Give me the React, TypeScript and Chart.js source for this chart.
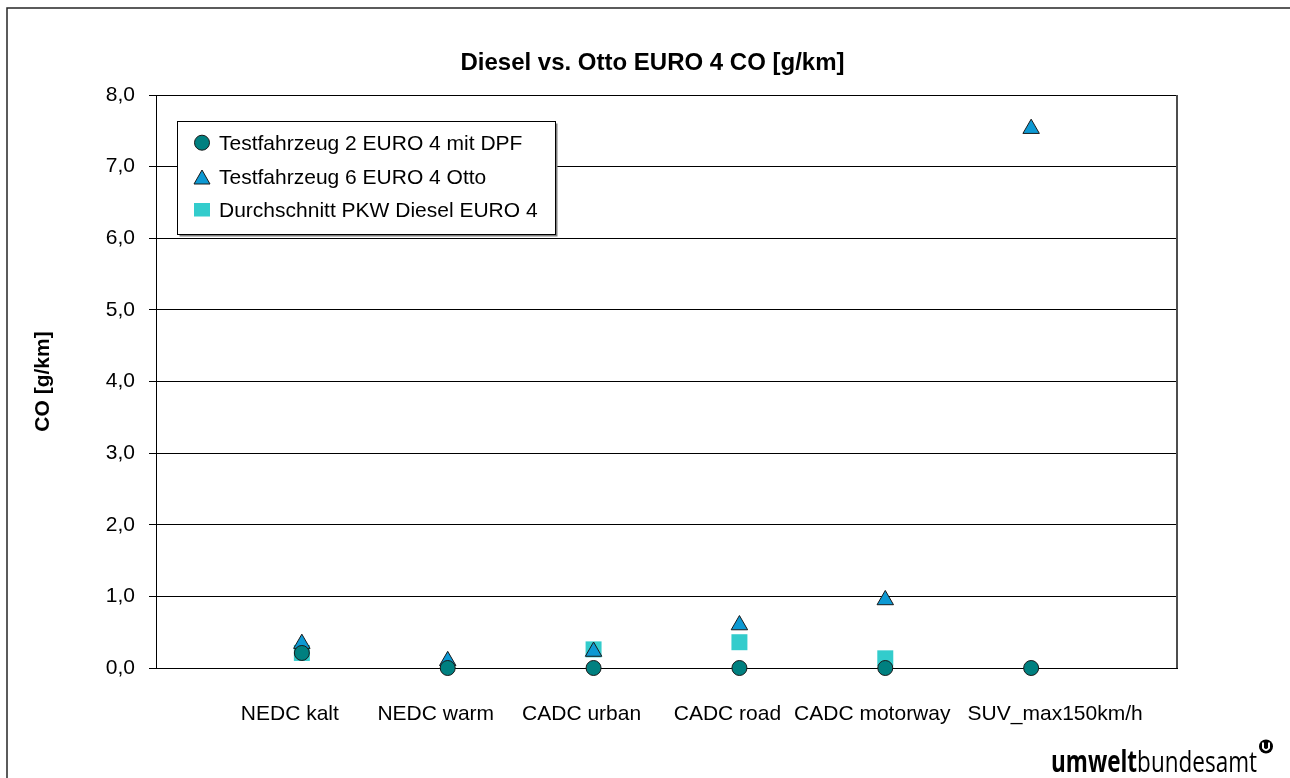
import React, { useEffect, useRef } from 'react';
import { Chart, registerables } from 'chart.js';

Chart.register(...registerables);

// ---- data ----
const chartTitle = 'Diesel vs. Otto EURO 4 CO [g/km]';
const yAxisTitle = 'CO [g/km]';
const categories = ['NEDC kalt', 'NEDC warm', 'CADC urban', 'CADC road', 'CADC motorway', 'SUV_max150km/h'];
const seriesNames = ['Testfahrzeug 2 EURO 4 mit DPF', 'Testfahrzeug 6 EURO 4 Otto', 'Durchschnitt PKW Diesel EURO 4'];
const testfahrzeug2 = [0.21, 0, 0, 0, 0, 0];
const testfahrzeug6 = [0.34, 0.1, 0.23, 0.6, 0.95, 7.53];
const durchschnittDiesel: (number | null)[] = [0.21, null, 0.26, 0.36, 0.135, null];
const yMin = 0;
const yMax = 8;
const yStep = 1;
const logoBold = 'umwelt';
const logoRegular = 'bundesamt';

// ---- styles ----
const FONT = '"Liberation Sans", Arial, Helvetica, sans-serif';
const CIRCLE_FILL = '#008080';
const TRI_FILL = '#0d99d3';
const SQUARE_FILL = '#33cccc';
const MARK_BORDER = '#1a1a1a';
const labelShift = [-12, -12, -12, -12, -13, 24];

const toPoints = (arr: (number | null)[]) =>
  arr.map((v, i) => ({ x: i + 1, y: v }));

const decorPlugin = {
  id: 'decor',
  beforeDraw(chart: any) {
    const ctx = chart.ctx;
    ctx.save();
    ctx.fillStyle = '#ffffff';
    ctx.fillRect(0, 0, chart.width, chart.height);
    ctx.strokeStyle = '#262626';
    ctx.lineWidth = 1.5;
    ctx.strokeRect(7, 8, 1400, 900);
    ctx.restore();
    const xs = chart.scales.x;
    const items = xs.getLabelItems();
    items.forEach((it: any) => {
      const idx = categories.indexOf(it.label);
      if (idx >= 0 && !it._shifted) {
        it.options.translation[0] += labelShift[idx];
        it._shifted = true;
      }
    });
  },
  afterDraw(chart: any) {
    const ctx = chart.ctx;
    const area = chart.chartArea;
    ctx.save();
    // plot area right border
    ctx.strokeStyle = '#4d4d4d';
    ctx.lineWidth = 2;
    ctx.beginPath();
    ctx.moveTo(area.right, area.top);
    ctx.lineTo(area.right, area.bottom);
    ctx.stroke();

    // title
    ctx.fillStyle = '#000';
    ctx.font = `bold 24px ${FONT}`;
    ctx.textAlign = 'center';
    ctx.textBaseline = 'alphabetic';
    ctx.fillText(chartTitle, 652.5, 70);

    // legend box
    const lx = 177.5, ly = 121.5, lw = 378, lh = 113;
    ctx.fillStyle = '#808080';
    ctx.fillRect(lx + 2, ly + 2, lw, lh);
    ctx.fillStyle = '#ffffff';
    ctx.fillRect(lx, ly, lw, lh);
    ctx.strokeStyle = '#000';
    ctx.lineWidth = 1;
    ctx.strokeRect(lx, ly, lw, lh);

    const mx = 202;
    // circle
    ctx.beginPath();
    ctx.arc(mx, 142.7, 7.5, 0, Math.PI * 2);
    ctx.fillStyle = CIRCLE_FILL;
    ctx.fill();
    ctx.strokeStyle = MARK_BORDER;
    ctx.stroke();
    // triangle
    ctx.beginPath();
    ctx.moveTo(mx, 170);
    ctx.lineTo(mx + 8, 184);
    ctx.lineTo(mx - 8, 184);
    ctx.closePath();
    ctx.fillStyle = TRI_FILL;
    ctx.fill();
    ctx.stroke();
    // square
    ctx.fillStyle = SQUARE_FILL;
    ctx.fillRect(mx - 8, 203, 16, 13.5);

    ctx.fillStyle = '#000';
    ctx.font = `21px ${FONT}`;
    ctx.textAlign = 'left';
    const baselines = [150, 184, 216.5];
    seriesNames.forEach((n, i) => ctx.fillText(n, 219, baselines[i]));

    // logo
    ctx.save();
    ctx.translate(1051, 771.5);
    ctx.font = `bold 30px "Open Sans", ${FONT}`;
    const w1 = ctx.measureText(logoBold).width;
    ctx.font = `30px "Open Sans", ${FONT}`;
    const w2 = ctx.measureText(logoRegular).width;
    const sx = 206 / (w1 + w2);
    ctx.scale(sx, 1);
    ctx.font = `bold 30px "Open Sans", ${FONT}`;
    ctx.fillText(logoBold, 0, 0);
    ctx.font = `30px "Open Sans", ${FONT}`;
    ctx.fillText(logoRegular, w1, 0);
    ctx.restore();
    // logo symbol
    ctx.beginPath();
    ctx.arc(1266, 746.5, 7, 0, Math.PI * 2);
    ctx.fillStyle = '#000';
    ctx.fill();
    ctx.strokeStyle = '#fff';
    ctx.lineWidth = 2;
    ctx.beginPath();
    ctx.moveTo(1263, 742.5);
    ctx.lineTo(1263, 748);
    ctx.quadraticCurveTo(1266, 752, 1269, 748);
    ctx.lineTo(1269, 742.5);
    ctx.stroke();
    ctx.restore();
  },
};

export default function App() {
  const ref = useRef<HTMLCanvasElement | null>(null);

  useEffect(() => {
    if (!ref.current) return;
    const chart = new Chart(ref.current, {
      type: 'scatter',
      data: {
        datasets: [
          {
            label: seriesNames[0],
            data: toPoints(testfahrzeug2),
            pointStyle: 'circle',
            pointRadius: 7.5,
            pointBackgroundColor: CIRCLE_FILL,
            pointBorderColor: MARK_BORDER,
            pointBorderWidth: 1,
            showLine: false,
            clip: false,
          } as any,
          {
            label: seriesNames[1],
            data: toPoints(testfahrzeug6),
            pointStyle: 'triangle',
            pointRadius: 9.5,
            pointBackgroundColor: TRI_FILL,
            pointBorderColor: MARK_BORDER,
            pointBorderWidth: 1,
            showLine: false,
            clip: false,
          } as any,
          {
            label: seriesNames[2],
            data: toPoints(durchschnittDiesel),
            pointStyle: 'rect',
            pointRadius: 11.3,
            pointBackgroundColor: SQUARE_FILL,
            pointBorderWidth: 0,
            showLine: false,
            clip: false,
          } as any,
        ],
      },
      options: {
        animation: false,
        responsive: false,
        events: [],
        layout: { padding: { left: 0, top: 95, right: 113, bottom: 0 } },
        plugins: {
          legend: { display: false },
          title: { display: false },
          tooltip: { enabled: false },
        },
        scales: {
          x: {
            type: 'linear',
            min: 0,
            max: categories.length + 1,
            grid: { display: false, drawTicks: false },
            border: { display: true, color: '#000', width: 1 },
            ticks: {
              stepSize: 1,
              autoSkip: false,
              maxRotation: 0,
              minRotation: 0,
              padding: 34,
              color: '#000',
              font: { family: FONT, size: 21 },
              callback: (v: any) => categories[Number(v) - 1] ?? '',
            },
            afterFit: (s: any) => {
              s.height = 110;
            },
          },
          y: {
            type: 'linear',
            min: yMin,
            max: yMax,
            grid: { color: '#000', lineWidth: 1, drawTicks: true, tickLength: 7, tickColor: '#000' },
            border: { display: true, color: '#000', width: 1 },
            ticks: {
              stepSize: yStep,
              padding: 14,
              color: '#000',
              font: { family: FONT, size: 21 },
              callback: (v: any) => Number(v).toFixed(1).replace('.', ','),
            },
            title: {
              display: true,
              text: yAxisTitle,
              color: '#000',
              font: { family: FONT, size: 21, weight: 'bold' },
              padding: { top: 31, bottom: 0 },
            },
            afterFit: (s: any) => {
              s.width = 156;
            },
          },
        },
      } as any,
      plugins: [decorPlugin],
    });
    return () => chart.destroy();
  }, []);

  return (
    <div style={{ position: 'fixed', left: 0, top: 0, width: 1290, height: 778, background: '#fff', overflow: 'hidden' }}>
      <canvas ref={ref} width={1290} height={778} style={{ display: 'block' }} />
    </div>
  );
}
